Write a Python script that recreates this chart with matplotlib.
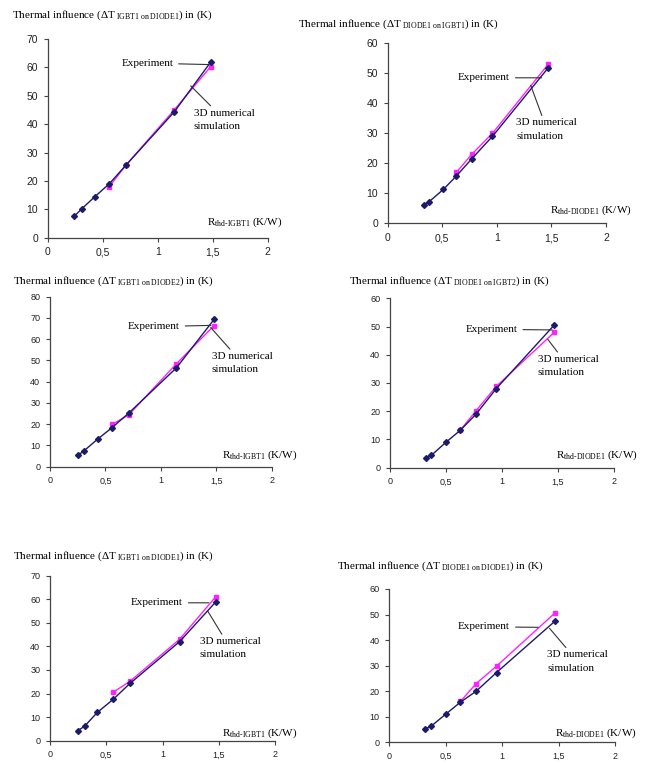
import matplotlib
matplotlib.use('Agg')
import matplotlib.pyplot as plt
from matplotlib.ticker import FixedLocator, FuncFormatter

plt.rcParams['mathtext.fontset'] = 'custom'
plt.rcParams['mathtext.rm'] = 'Liberation Serif'
plt.rcParams['mathtext.it'] = 'Liberation Serif:italic'
plt.rcParams['mathtext.bf'] = 'Liberation Serif:bold'

# IGBT1 on DIODE1
p1_exp_x = [0.24, 0.31, 0.43, 0.56, 0.71, 1.15, 1.48]
p1_exp_y = [7.5, 10.2, 14.5, 19.0, 25.5, 44.3, 61.8]
p1_sim_x = [0.56, 0.71, 1.15, 1.48]
p1_sim_y = [18.0, 25.5, 45.0, 60.2]

# DIODE1 on IGBT1
p2_exp_x = [0.33, 0.38, 0.51, 0.63, 0.77, 0.96, 1.47]
p2_exp_y = [6.0, 7.2, 11.3, 15.8, 21.5, 29.0, 51.8]
p2_sim_x = [0.63, 0.77, 0.96, 1.47]
p2_sim_y = [17.0, 23.0, 30.0, 53.0]

# IGBT1 on DIODE2
p3_exp_x = [0.25, 0.31, 0.43, 0.56, 0.71, 1.14, 1.48]
p3_exp_y = [5.3, 7.6, 13.0, 18.4, 25.2, 46.5, 69.3]
p3_sim_x = [0.56, 0.71, 1.14, 1.48]
p3_sim_y = [19.9, 24.4, 48.4, 66.4]

# DIODE1 on IGBT2
p4_exp_x = [0.32, 0.37, 0.50, 0.63, 0.77, 0.95, 1.47]
p4_exp_y = [3.4, 4.4, 9.0, 13.3, 19.0, 28.0, 50.6]
p4_sim_x = [0.63, 0.77, 0.95, 1.47]
p4_sim_y = [13.4, 20.2, 28.8, 48.0]

# IGBT1 on DIODE1 (second set)
p5_exp_x = [0.25, 0.31, 0.42, 0.56, 0.71, 1.15, 1.47]
p5_exp_y = [4.3, 6.3, 12.0, 17.5, 24.3, 42.0, 58.8]
p5_sim_x = [0.56, 0.71, 1.15, 1.47]
p5_sim_y = [20.5, 25.2, 43.0, 61.0]

# DIODE1 on DIODE1
p6_exp_x = [0.32, 0.37, 0.50, 0.63, 0.77, 0.95, 1.47]
p6_exp_y = [5.3, 6.3, 11.0, 15.7, 20.0, 27.3, 47.5]
p6_sim_x = [0.63, 0.77, 0.95, 1.47]
p6_sim_y = [16.0, 23.0, 29.8, 50.7]

subscripts = ['IGBT1 on DIODE1', 'DIODE1 on IGBT1', 'IGBT1 on DIODE2',
              'DIODE1 on IGBT2', 'IGBT1 on DIODE1', 'DIODE1 on DIODE1']
r_labels = ['thd‐IGBT1', 'thd‐DIODE1', 'thd‐IGBT1',
            'thd‐DIODE1', 'thd‐IGBT1', 'thd‐DIODE1']
y_max = [70, 60, 80, 60, 70, 60]
x_ticks = [0, 0.5, 1, 1.5, 2]

series = [
    (p1_exp_x, p1_exp_y, p1_sim_x, p1_sim_y),
    (p2_exp_x, p2_exp_y, p2_sim_x, p2_sim_y),
    (p3_exp_x, p3_exp_y, p3_sim_x, p3_sim_y),
    (p4_exp_x, p4_exp_y, p4_sim_x, p4_sim_y),
    (p5_exp_x, p5_exp_y, p5_sim_x, p5_sim_y),
    (p6_exp_x, p6_exp_y, p6_sim_x, p6_sim_y),
]

W, H = 650, 763

# layout in pixels: axes box (left, right, bottom, top), title pos,
# x label pos, annotation anchors in data coords
layout = [
    dict(box=(47.7, 267.7, 237.7, 39.0), title=(12, 15), xlab=(207, 222),
         exp_txt=(1.14, 61.5), exp_tip=(1.46, 61.0),
         sim_txt=(1.33, 45.5), sim_tip=(1.30, 53.5), tick_fs=7.5),
    dict(box=(387.7, 606.0, 223.3, 43.3), title=(298, 24), xlab=(550, 210),
         exp_txt=(1.12, 48.5), exp_tip=(1.41, 48.5),
         sim_txt=(1.18, 35.0), sim_tip=(1.31, 46.0), tick_fs=7.5),
    dict(box=(50.0, 271.7, 466.7, 296.7), title=(13, 281), xlab=(222, 455),
         exp_txt=(1.17, 65.9), exp_tip=(1.45, 66.5),
         sim_txt=(1.46, 54.0), sim_tip=(1.45, 65.5), tick_fs=6.5),
    dict(box=(390.0, 613.7, 467.7, 298.3), title=(349, 281), xlab=(556, 455),
         exp_txt=(1.14, 49.0), exp_tip=(1.45, 48.8),
         sim_txt=(1.32, 40.0), sim_tip=(1.41, 45.5), tick_fs=6.5),
    dict(box=(50.0, 275.3, 740.7, 575.7), title=(13, 556), xlab=(222, 733),
         exp_txt=(1.18, 58.5), exp_tip=(1.41, 58.5),
         sim_txt=(1.33, 44.0), sim_tip=(1.40, 55.0), tick_fs=6.5),
    dict(box=(389.3, 615.0, 742.3, 589.0), title=(337, 566), xlab=(555, 733),
         exp_txt=(1.07, 45.2), exp_tip=(1.32, 45.0),
         sim_txt=(1.40, 36.0), sim_tip=(1.42, 44.6), tick_fs=6.5),
]

navy = '#1c1a6b'
magenta = '#ff22ff'
serif = 'Liberation Serif'
sans = 'Liberation Sans'


def comma_fmt(v, pos):
    if v == int(v):
        return '%d' % v
    return ('%g' % v).replace('.', ',')


fig = plt.figure(figsize=(W / 100, H / 100), dpi=100)

for i, (lay, (ex, ey, sx, sy)) in enumerate(zip(layout, series)):
    left, right, bottom, top = lay['box']
    ax = fig.add_axes([left / W, 1 - bottom / H,
                       (right - left) / W, (bottom - top) / H])
    ax.set_xlim(0, 2)
    ax.set_ylim(0, y_max[i])
    for s in ('top', 'right'):
        ax.spines[s].set_visible(False)
    for s in ('left', 'bottom'):
        ax.spines[s].set_color('#444444')
        ax.spines[s].set_linewidth(0.9)
    ax.xaxis.set_major_locator(FixedLocator(x_ticks))
    ax.xaxis.set_major_formatter(FuncFormatter(comma_fmt))
    ax.set_yticks(range(0, y_max[i] + 1, 10))
    ax.tick_params(axis='both', direction='out', length=3, width=0.8,
                   color='#444444', labelsize=lay['tick_fs'], pad=4)
    for lab in ax.get_xticklabels() + ax.get_yticklabels():
        lab.set_fontfamily(sans)
        lab.set_color('#222222')

    ax.plot(sx, sy, color=magenta, lw=1.0, marker='s', ms=3.5,
            mec=magenta, mfc=magenta, clip_on=False, zorder=3)
    ax.plot(ex, ey, color=navy, lw=1.0, marker='D', ms=3,
            mec=navy, mfc=navy, clip_on=False, zorder=4)

    # leader labels
    ax.annotate('Experiment', xy=lay['exp_tip'], xytext=lay['exp_txt'],
                ha='right', va='center', fontsize=8, family=serif,
                arrowprops=dict(arrowstyle='-', color='#333333', lw=0.8,
                                shrinkA=2, shrinkB=0))
    ax.annotate('3D numerical\nsimulation', xy=lay['sim_tip'],
                xytext=lay['sim_txt'], ha='left', va='top', fontsize=8,
                family=serif, linespacing=1.6,
                arrowprops=dict(arrowstyle='-', color='#333333', lw=0.8,
                                shrinkA=0, shrinkB=0))

    tx, ty = lay['title']
    fig.text(tx / W, 1 - ty / H,
             'Thermal influence (ΔT$_{\\mathrm{\\ %s}}$) in (K)'
             % subscripts[i].replace(' ', '\\ '),
             family=serif, fontsize=8, va='center', ha='left')
    lx, ly = lay['xlab']
    fig.text(lx / W, 1 - ly / H,
             'R$_{\\mathrm{%s}}$ (K/W)' % r_labels[i],
             family=serif, fontsize=8, va='center', ha='left')

fig.savefig('out.png', dpi=100)
